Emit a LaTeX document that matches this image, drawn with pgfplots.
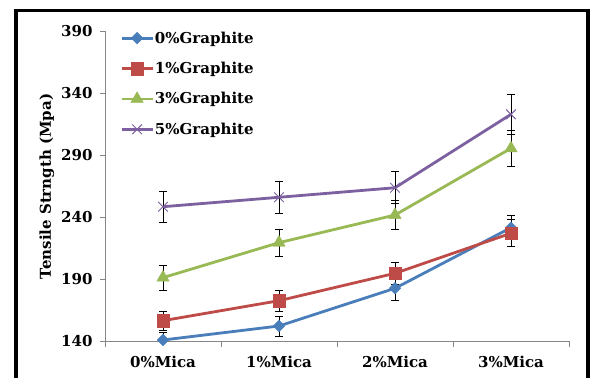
\documentclass[border=0pt]{standalone}
\usepackage{pgfplots}
\pgfplotsset{compat=1.18}
\usepackage{fontspec}
\setmainfont{DejaVu Serif}
\definecolor{sblue}{HTML}{4A7EBB}
\definecolor{sred}{HTML}{BE4B48}
\definecolor{sgreen}{HTML}{98B954}
\definecolor{spurple}{HTML}{7D60A0}
\definecolor{axgray}{HTML}{868686}
\newcommand\cf{\fontsize{15bp}{17bp}\selectfont\bfseries}
\pgfplotstableread{
x y e
0 141.2 6
1 152.5 8
2 182.9 9.5
3 231.8 9.5
}\gzero
\pgfplotstableread{
x y e
0 156.8 7.5
1 172.9 8.5
2 195.0 9
3 227.3 10.8
}\gone
\pgfplotstableread{
x y e
0 191.5 10
1 219.7 11
2 242.0 12
3 295.8 14.7
}\gthree
\pgfplotstableread{
x y e
0 248.7 12.5
1 256.3 13
2 264.0 12.8
3 323.2 16
}\gfive
\begin{document}
\begin{tikzpicture}
\useasboundingbox (0,0) rectangle (592bp,378bp);
\clip (0,0) rectangle (592bp,378bp);
\draw[line width=3.5bp] (16bp,-20bp) -- (16bp,367.5bp) -- (588bp,367.5bp) -- (588bp,-20bp);
\begin{axis}[
  at={(105bp,36.5bp)}, anchor=south west,
  scale only axis, width=464bp, height=310bp,
  xmin=-0.5, xmax=3.5, ymin=140, ymax=390,
  axis x line*=bottom, axis y line*=left,
  axis line style={-, draw=axgray, line width=0.9bp},
  xtick={0,1,2,3}, xticklabels={0\%Mica,1\%Mica,2\%Mica,3\%Mica},
  minor xtick={-0.5,0.5,1.5,2.5,3.5},
  ytick={140,190,240,290,340,390},
  tick align=outside,
  major tick length=5bp, minor tick length=5bp,
  tick style={axgray, line width=0.9bp},
  major x tick style={draw=none},
  /pgf/number format/assume math mode=true,
  ticklabel style={font=\cf},
  yticklabel style={xshift=-4bp},
  xticklabel style={yshift=-6bp},
  ylabel={Tensile Strngth (Mpa)},
  ylabel style={font=\cf},
  legend cell align=left,
  legend style={at={(axis description cs:0,1)}, anchor=north west, draw=none, fill=none,
    font=\cf, row sep=15.5bp, nodes={inner sep=1bp}, xshift=12bp, yshift=3bp},
  legend image code/.code={\draw[mark repeat=2,mark phase=2,#1] plot coordinates {(0bp,0bp) (15.5bp,0bp) (31bp,0bp)};},
  every axis plot/.append style={line width=2.8bp},
  error bars/error bar style={black, line width=0.8bp},
  error bars/error mark options={black, rotate=90, mark size=4bp, line width=0.8bp},
]
\addplot[color=sblue, mark=square*, mark options={rotate=45, mark size=4.1bp, fill=sblue, line width=0.4bp},
  error bars/.cd, y dir=both, y explicit] table[x=x,y=y,y error=e] {\gzero};
\addlegendentry{0\%Graphite}
\addplot[color=sred, mark=square*, mark options={mark size=6.3bp, fill=sred, line width=0.4bp},
  error bars/.cd, y dir=both, y explicit] table[x=x,y=y,y error=e] {\gone};
\addlegendentry{1\%Graphite}
\addplot[color=sgreen, mark=triangle*, mark options={mark size=7.2bp, fill=sgreen, line width=0.4bp},
  error bars/.cd, y dir=both, y explicit] table[x=x,y=y,y error=e] {\gthree};
\addlegendentry{3\%Graphite}
\addplot[color=spurple, mark=x, mark options={mark size=6.8bp, line width=1bp},
  error bars/.cd, y dir=both, y explicit] table[x=x,y=y,y error=e] {\gfive};
\addlegendentry{5\%Graphite}
\end{axis}
\end{tikzpicture}
\end{document}
